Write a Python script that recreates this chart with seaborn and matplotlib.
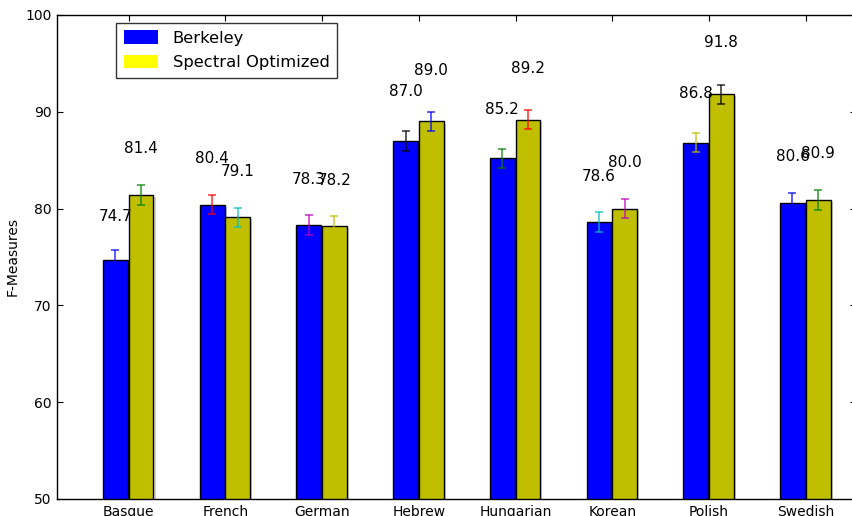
import pandas as pd
import matplotlib
matplotlib.use("Agg")
import matplotlib.pyplot as plt
import matplotlib.patheffects as pe
from matplotlib.patches import Patch
import seaborn as sns

# values
languages = ["Basque", "French", "German", "Hebrew", "Hungarian", "Korean", "Polish", "Swedish"]
berkeley = [74.7, 80.4, 78.3, 87.0, 85.2, 78.6, 86.8, 80.6]
spectral = [81.4, 79.1, 78.2, 89.0, 89.2, 80.0, 91.8, 80.9]
berkeley_err = [1.0, 1.0, 1.0, 1.0, 1.0, 1.0, 1.0, 1.0]
spectral_err = [1.0, 1.0, 1.0, 1.0, 1.0, 1.0, 1.0, 1.0]
systems = ["Berkeley", "Spectral Optimized"]

df = pd.DataFrame({
    "lang": languages * 2,
    "score": berkeley + spectral,
    "system": [systems[0]] * len(languages) + [systems[1]] * len(languages),
})

sns.set_style("ticks")
plt.rcParams["font.family"] = ["DejaVu Sans"]
plt.rcParams["text.color"] = "black"
plt.rcParams["axes.labelcolor"] = "black"
plt.rcParams["xtick.color"] = "black"
plt.rcParams["ytick.color"] = "black"

fig = plt.figure(figsize=(8.52, 5.16), dpi=100)
ax = fig.add_axes([57 / 852, 17 / 516, 799 / 852, 484 / 516])

sns.barplot(data=df, x="lang", y="score", hue="system", order=languages,
            palette=["#0000ff", "#bfbf00"], width=0.53, saturation=1,
            edgecolor="black", linewidth=1, legend=False, ax=ax)

shadow = [pe.SimplePatchShadow(offset=(1.5, -1.5), shadow_rgbFace="gray", alpha=0.35), pe.Normal()]
for cont in ax.containers:
    for p in cont:
        p.set_width(p.get_width() * 0.97)
        p.set_path_effects(shadow)

# errorbars + labels, colors cycle like old matplotlib
cycle = ["#0000ff", "#008000", "#ff0000", "#00bfbf", "#bf00bf", "#bfbf00", "#000000"]
k = 0
b_bars, s_bars = ax.containers[0], ax.containers[1]
for i in range(len(languages)):
    for bar, val, err in [(b_bars[i], berkeley[i], berkeley_err[i]),
                          (s_bars[i], spectral[i], spectral_err[i])]:
        xc = bar.get_x() + bar.get_width() / 2
        ax.errorbar(xc, val, yerr=err, color=cycle[k % len(cycle)], alpha=0.75,
                    capsize=3, elinewidth=1.2, capthick=1.2, fmt="none")
        ax.text(xc, val * 1.05, "%.1f" % val, ha="center", va="bottom",
                fontsize=11, color="black")
        k += 1

ax.set_ylim(50, 100)
ax.set_xlim(-0.74, 7.52)
ax.set_yticks(range(50, 101, 10))
ax.set_xlabel("")
ax.set_ylabel("F-Measures", fontsize=10)
ax.tick_params(direction="in", top=True, right=True, length=4, labelsize=10, pad=4)
for s in ax.spines.values():
    s.set_visible(True)
    s.set_linewidth(1)
    s.set_color("black")

handles = [Patch(facecolor="#0000ff", edgecolor="none"), Patch(facecolor="#ffff00", edgecolor="none")]
leg = ax.legend(handles, systems, loc="upper left", bbox_to_anchor=(0.074, 0.9835),
                borderaxespad=0, fontsize=11.8, frameon=True, fancybox=False,
                handlelength=2.1, handleheight=0.9, borderpad=0.45,
                labelspacing=0.55, handletextpad=0.9)
leg.get_frame().set_edgecolor("black")
leg.get_frame().set_linewidth(1)

fig.savefig("out.png", dpi=100)
